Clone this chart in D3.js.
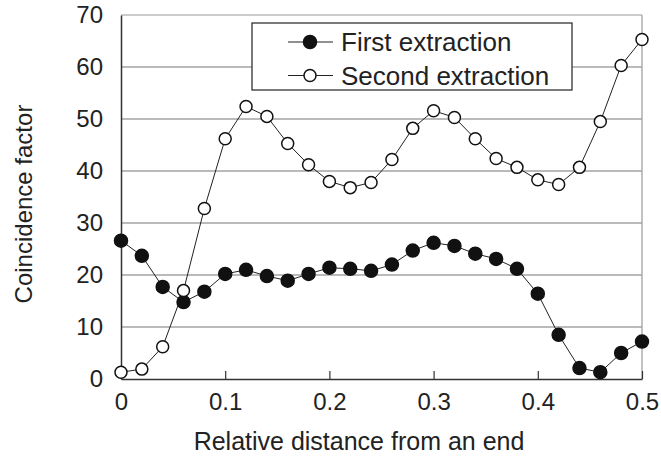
<!DOCTYPE html>
<html>
<head>
<meta charset="utf-8">
<script src="https://cdn.jsdelivr.net/npm/d3@7"></script>
<style>
  body { margin: 0; background: #fff; }
  text { font-family: "Liberation Sans", Arial, sans-serif; fill: #222; }
</style>
</head>
<body>
<svg id="plt"></svg>
<script>
// relative distance from an end
const distance = [0, 0.02, 0.04, 0.06, 0.08, 0.1, 0.12, 0.14, 0.16, 0.18, 0.2, 0.22, 0.24,
    0.26, 0.28, 0.3, 0.32, 0.34, 0.36, 0.38, 0.4, 0.42, 0.44, 0.46, 0.48, 0.5];
const firstExtraction = [26.6, 23.7, 17.7, 14.8, 16.8, 20.2, 21.0, 19.8, 18.9, 20.2, 21.4, 21.2, 20.8,
    22.0, 24.7, 26.2, 25.6, 24.1, 23.1, 21.2, 16.4, 8.5, 2.1, 1.3, 5.0, 7.2];
const secondExtraction = [1.3, 1.9, 6.2, 17.0, 32.8, 46.2, 52.4, 50.5, 45.3, 41.2, 38.0, 36.8, 37.8,
    42.2, 48.2, 51.6, 50.3, 46.2, 42.4, 40.7, 38.3, 37.4, 40.7, 49.5, 60.3, 65.3];
const xTicks = [0, 0.1, 0.2, 0.3, 0.4, 0.5];
const yTicks = [0, 10, 20, 30, 40, 50, 60, 70];
const seriesNames = ["First extraction", "Second extraction"];

const W = 661, H = 456;
const margin = { left: 121, top: 15, right: 19, bottom: 77 };
const cWidth = W - margin.left - margin.right,
    cHeight = H - margin.top - margin.bottom;

let x = d3.scaleLinear().domain([0, 0.5]).range([0, cWidth]);
let y = d3.scaleLinear().domain([0, 70]).range([cHeight, 0]);

const svg = d3.select("#plt")
    .attr("width", W)
    .attr("height", H)
    .append("g")
    .attr("transform", "translate(" + margin.left + "," + margin.top + ")");

// horizontal grid
svg.append("g")
    .selectAll("line")
    .data(yTicks.slice(1))
    .enter().append("line")
    .attr("x1", 0)
    .attr("x2", cWidth)
    .attr("y1", d => y(d))
    .attr("y2", d => y(d))
    .attr("stroke", d => d === 70 ? "#999" : "#777")
    .attr("stroke-width", 1.2);

// right border
svg.append("line")
    .attr("x1", cWidth).attr("x2", cWidth)
    .attr("y1", 0).attr("y2", cHeight)
    .attr("stroke", "#999")
    .attr("stroke-width", 1.2);

// Y axis
let gy = svg.append("g")
    .call(d3.axisLeft(y).tickValues(yTicks).tickSize(0).tickPadding(18).tickFormat(d3.format("d")));
gy.select(".domain").attr("stroke", "#333").attr("stroke-width", 1.5);
gy.selectAll("text").style("font-size", "24px").attr("fill", "#222")
    .style("font-family", '"Liberation Sans", Arial, sans-serif');

// X axis
let gx = svg.append("g")
    .attr("transform", "translate(0," + cHeight + ")")
    .call(d3.axisBottom(x).tickValues(xTicks).tickSizeInner(-8).tickSizeOuter(0).tickPadding(14)
        .tickFormat(d => d === 0 ? "0" : d3.format(".1f")(d)));
gx.select(".domain").attr("stroke", "#333").attr("stroke-width", 1.5);
gx.selectAll(".tick line").attr("stroke", "#333").attr("stroke-width", 1.2);
gx.selectAll("text").style("font-size", "24px").attr("fill", "#222")
    .style("font-family", '"Liberation Sans", Arial, sans-serif');

// axis titles
svg.append("text")
    .attr("x", 359 - margin.left)
    .attr("y", 450 - margin.top)
    .style("text-anchor", "middle")
    .style("font-size", "25px")
    .text("Relative distance from an end");

svg.append("text")
    .attr("transform", "rotate(-90)")
    .attr("x", -(204 - margin.top))
    .attr("y", 32 - margin.left)
    .style("text-anchor", "middle")
    .style("font-size", "24px")
    .text("Coincidence factor");

const line = d3.line()
    .x((d, i) => x(distance[i]))
    .y(d => y(d));

const series = [firstExtraction, secondExtraction];
const fills = ["#111", "#fff"];

series.forEach(function (s, k) {
    svg.append("path")
        .datum(s)
        .attr("fill", "none")
        .attr("stroke", "#222")
        .attr("stroke-width", 1)
        .attr("d", line);
});
series.forEach(function (s, k) {
    svg.append("g")
        .selectAll("circle")
        .data(s)
        .enter().append("circle")
        .attr("cx", (d, i) => x(distance[i]))
        .attr("cy", d => y(d))
        .attr("r", k === 0 ? 6.5 : 6)
        .attr("fill", fills[k])
        .attr("stroke", "#111")
        .attr("stroke-width", 1.5);
});

// legend
const lg = svg.append("g")
    .attr("transform", "translate(" + (252 - margin.left) + "," + (23 - margin.top) + ")");
lg.append("rect")
    .attr("width", 320)
    .attr("height", 67)
    .attr("fill", "#fff")
    .attr("stroke", "#222")
    .attr("stroke-width", 1.2);
seriesNames.forEach(function (name, k) {
    let row = lg.append("g").attr("transform", "translate(0," + (19 + k * 33.5) + ")");
    row.append("line")
        .attr("x1", 36).attr("x2", 81)
        .attr("stroke", "#222").attr("stroke-width", 1);
    row.append("circle")
        .attr("cx", 58).attr("r", k === 0 ? 6.5 : 6)
        .attr("fill", fills[k]).attr("stroke", "#111").attr("stroke-width", 1.5);
    row.append("text")
        .attr("x", 89)
        .attr("dy", "0.36em")
        .style("font-size", "26px")
        .text(name);
});
</script>
</body>
</html>
